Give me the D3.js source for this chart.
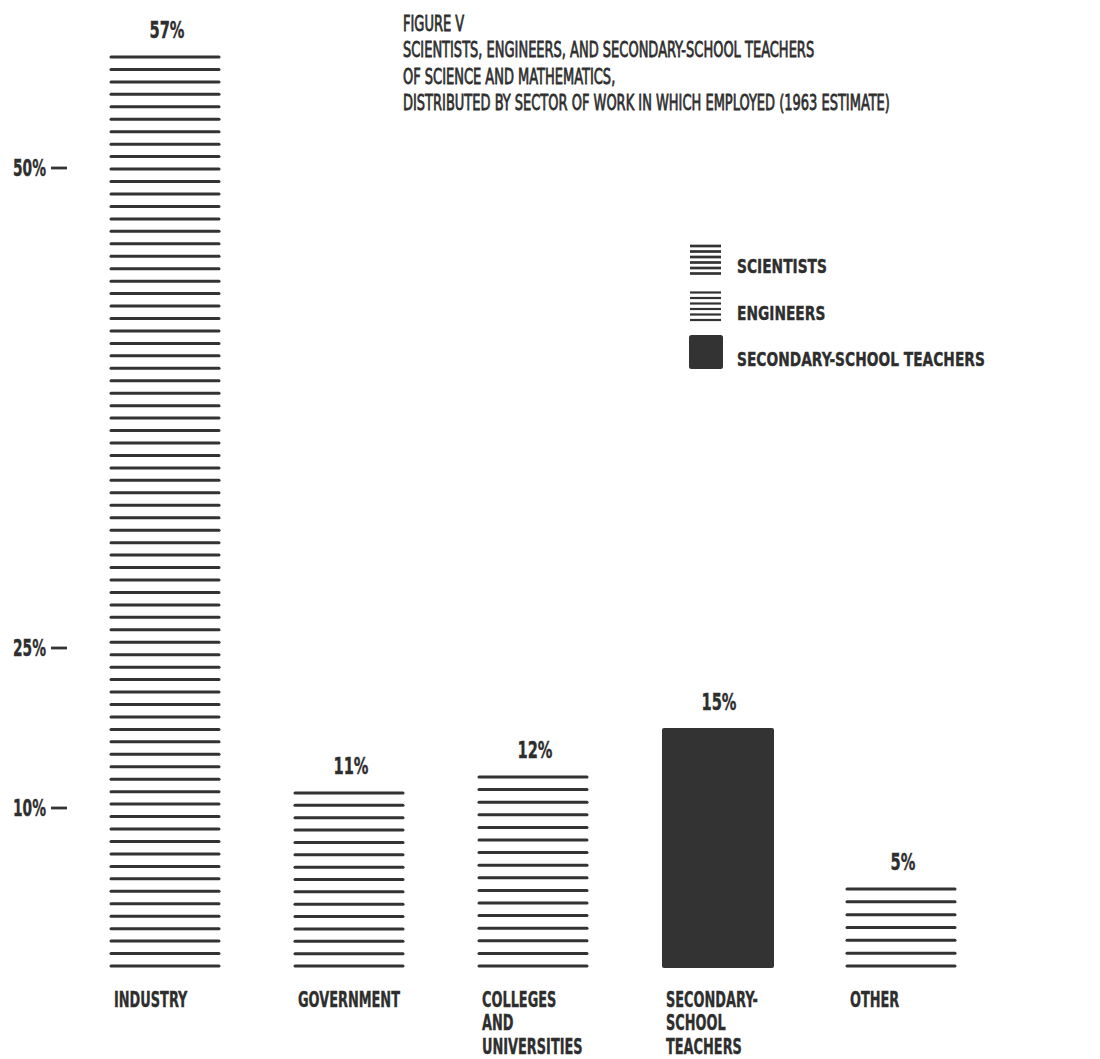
<!DOCTYPE html>
<html>
<head>
<meta charset="utf-8">
<script src="https://cdn.jsdelivr.net/npm/d3@7/dist/d3.min.js"></script>
<style>
  html, body { margin: 0; padding: 0; background: #fff; }
  svg { display: block; }
  text { fill: #2e2e2e; font-family: "Liberation Sans Narrow", "DejaVu Sans Condensed", "Liberation Sans", sans-serif; }
  .title { font-weight: 400; stroke: #2e2e2e; stroke-width: 0.8px; }
  .bold { font-weight: 700; stroke: #2e2e2e; stroke-width: 0.35px; }
</style>
</head>
<body>
<svg id="chart" width="1100" height="1059"></svg>
<script>
// Sectors of employment and their share (%) of scientists, engineers and
// secondary-school teachers of science and mathematics, 1963 estimate.
const sectorKeys = ["industry", "government", "colleges", "secondary", "other"];
const sectorLabels = [
  ["INDUSTRY"],
  ["GOVERNMENT"],
  ["COLLEGES", "AND", "UNIVERSITIES"],
  ["SECONDARY-", "SCHOOL", "TEACHERS"],
  ["OTHER"]
];
const shares = [57, 11, 12, 15, 5];
const fillStyles = ["hatch", "hatch", "hatch", "solid", "hatch"];

// Axis ticks: the middle tick is set at the 20% level and labelled 25%.
const tickValues = [10, 20, 50];
const tickLabels = ["10%", "25%", "50%"];

const titleLines = [
  "FIGURE V",
  "SCIENTISTS, ENGINEERS, AND SECONDARY-SCHOOL TEACHERS",
  "OF SCIENCE AND MATHEMATICS,",
  "DISTRIBUTED BY SECTOR OF WORK IN WHICH EMPLOYED (1963 ESTIMATE)"
];
const legendLabels = ["SCIENTISTS", "ENGINEERS", "SECONDARY-SCHOOL TEACHERS"];
const legendStyles = ["hatch-fine", "hatch-fine", "solid"];

const INK = "#333";
const svg = d3.select("#chart");

const x = d3.scaleBand().domain(sectorKeys).range([110, 956]).paddingInner(0.402).paddingOuter(0);
const y = d3.scaleLinear().domain([0, 57]).range([968, 56]);

// Condensed lettering: compress text horizontally so a sample string
// reaches a given width, and reuse that factor for the whole group.
function condense(cls, size, sample, width) {
  const t = svg.append("text").attr("class", cls).style("font-size", size + "px").text(sample);
  const w = t.node().getComputedTextLength();
  t.remove();
  return width / w;
}
// One text element per label; extra lines go in as tspans.
function put(parent, lines, px, py, cls, size, sx, anchor, lead) {
  const t = parent.append("g")
    .attr("transform", `translate(${px},${py}) scale(${sx},1)`)
    .append("text")
    .attr("class", cls)
    .style("font-size", size + "px")
    .attr("text-anchor", anchor || "start");
  [].concat(lines).forEach((line, j) => {
    t.append("tspan").attr("x", 0).attr("dy", j === 0 ? 0 : lead).text(line);
  });
}

const F = { title: 22, cat: 20.4, legend: 20, value: 22.5, tick: 23.5 };
const sxTitle = condense("title", F.title, titleLines[3], 487);
const sxCat = condense("bold", F.cat, "GOVERNMENT", 102);
const sxLegend = condense("bold", F.legend, "SECONDARY-SCHOOL TEACHERS", 248);
const sxValue = condense("bold", F.value, "57%", 35);
const sxTick = condense("bold", F.tick, "50%", 33);

// Title block
put(svg, titleLines, 403, 30.5, "title", F.title, sxTitle, "start", 26.6);

// Bars
const bars = svg.append("g");
const base = y(0) - 2;
const gap = 12.5;
sectorKeys.forEach((k, i) => {
  const x0 = x(k), bw = x.bandwidth();
  const top = y(shares[i]);
  if (fillStyles[i] === "solid") {
    bars.append("rect")
      .attr("x", x0).attr("y", top)
      .attr("width", bw + 2).attr("height", y(0) - top)
      .attr("rx", 2).attr("fill", INK);
  } else {
    const t0 = top + 1;
    const n = Math.round((base - t0) / gap);
    const step = (base - t0) / n;
    bars.selectAll(null)
      .data(d3.range(n + 1))
      .join("line")
      .attr("x1", x0 + 1).attr("x2", x0 + bw - 1)
      .attr("y1", j => t0 + j * step).attr("y2", j => t0 + j * step)
      .attr("stroke", INK).attr("stroke-width", 3).attr("stroke-linecap", "round");
  }
  // value label
  put(svg, shares[i] + "%", x0 + bw / 2 + 2, top - 18, "bold", F.value, sxValue, "middle");
  // sector label
  put(svg, sectorLabels[i], x0 + 4, 1006.5, "bold", F.cat, sxCat, "start", 23.8);
});

// Left axis: short dashes with labels
const axis = svg.append("g");
tickValues.forEach((v, i) => {
  const ty = y(v);
  axis.append("line")
    .attr("x1", 51).attr("x2", 67).attr("y1", ty).attr("y2", ty)
    .attr("stroke", INK).attr("stroke-width", 2.8);
  put(axis, tickLabels[i], 46, ty + 8, "bold", F.tick, sxTick, "end");
});

// Legend
const legend = svg.append("g");
legendLabels.forEach((lab, i) => {
  const ly = 245 + i * 46.5;
  if (legendStyles[i] === "solid") {
    legend.append("rect").attr("x", 689).attr("y", ly - 3).attr("width", 34).attr("height", 34)
      .attr("rx", 2.5).attr("fill", INK);
  } else {
    legend.selectAll(null).data(d3.range(6)).join("line")
      .attr("x1", 690).attr("x2", 721)
      .attr("y1", j => ly + 1 + j * 5.5).attr("y2", j => ly + 1 + j * 5.5)
      .attr("stroke", INK).attr("stroke-width", i === 0 ? 2.7 : 2.2);
  }
  put(legend, lab, 737, ly + 28, "bold", F.legend, sxLegend);
});
</script>
</body>
</html>
